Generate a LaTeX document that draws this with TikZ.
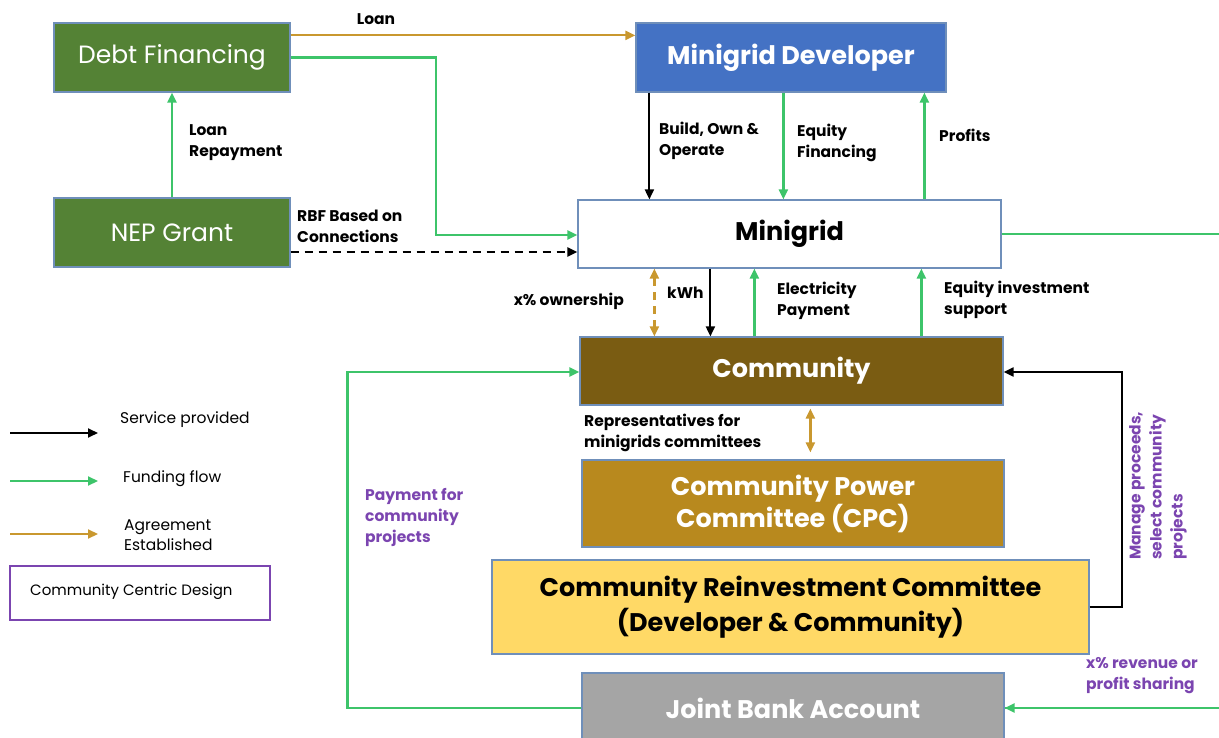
\documentclass[tikz,border=0pt]{standalone}
\usepackage{fontspec}
\setmainfont{Poppins}
\usetikzlibrary{arrows.meta}
\definecolor{debtgreen}{HTML}{548235}
\definecolor{devblue}{HTML}{4472C4}
\definecolor{commbrown}{HTML}{7A5C12}
\definecolor{cpcgold}{HTML}{B8891E}
\definecolor{crcyellow}{HTML}{FFD966}
\definecolor{bankgray}{HTML}{A5A5A5}
\definecolor{boxline}{HTML}{6F8FBA}
\definecolor{fundgreen}{HTML}{3DC46A}
\definecolor{agreegold}{HTML}{C9982F}
\definecolor{notepurple}{HTML}{7B45B0}
\tikzset{
	box/.style={draw=boxline, line width=1.2pt, inner sep=0pt, align=center},
	title/.style={font=\fontsize{25.5}{33}\selectfont\bfseries},
	fund/.style={draw=fundgreen, line width=2.2pt},
	serv/.style={draw=black, line width=2pt},
	agree/.style={draw=agreegold, line width=2.2pt},
	lbl/.style={font=\fontsize{15.5}{21}\selectfont\bfseries, align=left, inner sep=0pt},
	plbl/.style={lbl, text=notepurple},
	keytxt/.style={font=\fontsize{15.5}{20}\selectfont, align=left, inner sep=0pt},
}
\begin{document}
\begin{tikzpicture}[x=1pt, y=-1pt, >={Triangle[length=10pt,width=9pt]}]
	\useasboundingbox (0,0) rectangle (1219,738);

	\node[box, fill=debtgreen, minimum width=236pt, minimum height=69pt, text=white, font=\fontsize{25}{30}\selectfont] (debt) at (172,57.5) {Debt Financing};
	\node[box, fill=devblue, minimum width=310pt, minimum height=69pt, text=white, title] (dev) at (791,57.5) {Minigrid Developer};
	\node[box, fill=debtgreen, minimum width=236pt, minimum height=69pt, text=white, font=\fontsize{25}{30}\selectfont] (nep) at (172,232.5) {NEP Grant};
	\node[box, fill=white, minimum width=423pt, minimum height=68pt, title] (mini) at (789.5,234) {Minigrid};
	\node[box, fill=commbrown, minimum width=423pt, minimum height=68pt, text=white, title] (comm) at (791.5,371) {Community};
	\node[box, fill=cpcgold, minimum width=422pt, minimum height=87pt, text=white, title, font=\fontsize{25.5}{32}\selectfont\bfseries] (cpc) at (793,503.5) {Community Power\\Committee (CPC)};
	\node[box, fill=crcyellow, minimum width=597pt, minimum height=94pt, title, font=\fontsize{25.5}{35}\selectfont\bfseries] (crc) at (790.5,607) {Community Reinvestment Committee\\(Developer \& Community)};
	\node[box, fill=bankgray, minimum width=422pt, minimum height=70pt, text=white, title] (bank) at (793,708) {Joint Bank Account};

	\draw[agree, ->] ([yshift=-13pt]debt.north east) -- ([yshift=-13pt]dev.north west);
	\node[lbl] (loan) at (376,19) {Loan};
	\draw[fund, ->] (debt.east) -- ++(145,0) |- ([yshift=-1pt]mini.west);
	\draw[fund, ->] (nep.north) -- (debt.south);
	\node[lbl, anchor=west] (repay) at (189,143) {Loan\\Repayment};
	\draw[serv, dashed, dash pattern=on 8pt off 6pt, ->] ([yshift=-19.5pt]nep.east) -- ([yshift=-18pt]mini.west);
	\node[lbl, anchor=west] (rbf) at (297,226) {RBF Based on\\Connections};

	\draw[serv, ->] ([xshift=14pt]dev.south west) -- ([xshift=72pt]mini.north west);
	\node[lbl, anchor=west] (boo) at (659,141) {Build, Own \&\\Operate};
	\draw[fund, ->] ([xshift=148pt]dev.south west) -- ([xshift=206pt]mini.north west);
	\node[lbl, anchor=west] (eqfin) at (797,143) {Equity\\Financing};
	\draw[fund, ->] ([xshift=347pt]mini.north west) -- ([xshift=289pt]dev.south west);
	\node[lbl, anchor=west] (profits) at (939,135) {Profits};

	\draw[agree, dashed, dash pattern=on 8pt off 6pt, <->] ([xshift=77pt]mini.south west) -- ([xshift=75pt]comm.north west);
	\node[lbl, anchor=east] (own) at (624,301) {x\% ownership};
	\draw[serv, ->] ([xshift=133pt]mini.south west) -- ([xshift=131pt]comm.north west);
	\node[lbl, anchor=west] (kwh) at (667,293) {kWh};
	\draw[fund, ->] ([xshift=175pt]comm.north west) -- ([xshift=177pt]mini.south west);
	\node[lbl, anchor=west] (elec) at (777,301) {Electricity\\Payment};
	\draw[fund, ->] ([xshift=342pt]comm.north west) -- ([xshift=344pt]mini.south west);
	\node[lbl, anchor=west] (eqinv) at (944,300) {Equity investment\\support};
	\draw[fund] (mini.east) -- ++(223,0) |- (bank.east);
	\draw[fund, ->] ([xshift=215pt]bank.east) -- (bank.east);
	\node[plbl, anchor=west] (share) at (1086,676) {x\% revenue or\\profit sharing};

	\draw[agree, <->] ([shift={(231pt,-3pt)}]comm.south west) -- ([shift={(229pt,7pt)}]cpc.north west);
	\node[lbl, anchor=west] (reps) at (584,433) {Representatives for\\minigrids committees};

	\draw[serv, ->] (crc.east) -- ++(32,0) |- ([yshift=-1pt]comm.east);
	\node[plbl, rotate=90, anchor=north west] (manage) at (1129,560) {Manage proceeds,\\select community\\projects};
	\draw[fund, ->] (bank.west) -- ++(-234,0) |- ([yshift=-1pt]comm.west);
	\node[plbl, anchor=west] (payproj) at (365,517) {Payment for\\community\\projects};

	\coordinate (servA) at (10,433);
	\coordinate (servB) at (98,433);
	\draw[serv, ->] (servA) -- (servB);
	\node[keytxt, anchor=west] (servtxt) at (120,420) {Service provided};
	\coordinate (fundA) at (10,481);
	\coordinate (fundB) at (98,481);
	\draw[fund, ->] (fundA) -- (fundB);
	\node[keytxt, anchor=west] (fundtxt) at (123,479) {Funding flow};
	\coordinate (agreeA) at (10,534);
	\coordinate (agreeB) at (98,534);
	\draw[agree, ->] (agreeA) -- (agreeB);
	\node[keytxt, anchor=west] (agreetxt) at (124,535) {Agreement\\Established};
	\node[draw=notepurple, line width=1.4pt, minimum width=260pt, minimum height=54pt, inner sep=0pt] (ccd) at (140,593) {};
	\node[keytxt, anchor=west, font=\fontsize{15}{18}\selectfont] (ccdtxt) at (30,592) {Community Centric Design};
\end{tikzpicture}
\end{document}
